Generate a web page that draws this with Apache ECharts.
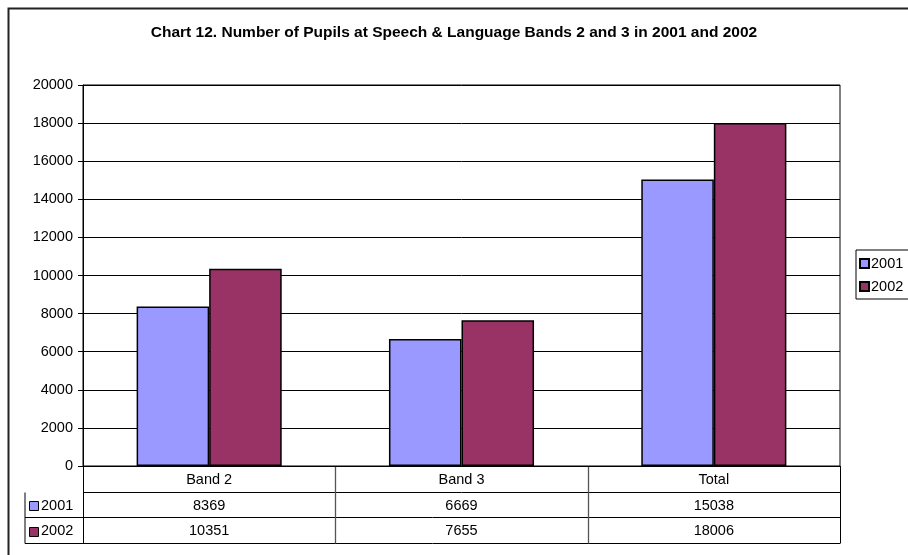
<!DOCTYPE html>
<html>
<head>
<meta charset="utf-8">
<script src="https://cdn.jsdelivr.net/npm/echarts@6/dist/echarts.min.js"></script>
<style>
  html, body { margin: 0; padding: 0; background: #fff; }
  #chart { width: 908px; height: 555px; }
</style>
</head>
<body>
<div id="chart"></div>
<script>
// Pupils at Speech & Language bands, by year
const categories = ['Band 2', 'Band 3', 'Total'];
const years = ['2001', '2002'];
const values2001 = [8369, 6669, 15038];
const values2002 = [10351, 7655, 18006];
const yTicks = { min: 0, max: 20000, interval: 2000 };

const colors = ['#9999FF', '#993366'];
const FONT = 'Liberation Sans, Arial, sans-serif';
const FS = 14.5;

const gridBox = { left: 83, right: 68, top: 85, bottom: 89 };
const tableRowH = 25.7;
const tableKeyLeft = 25;

const chart = echarts.init(document.getElementById('chart'), null, { renderer: 'canvas' });

const seriesValues = [values2001, values2002];

const option = {
  animation: false,
  backgroundColor: '#ffffff',
  title: {
    text: 'Chart 12. Number of Pupils at Speech & Language Bands 2 and 3 in 2001 and 2002',
    left: 'center',
    top: 20,
    textStyle: { fontFamily: FONT, fontSize: 15.5, fontWeight: 'bold', color: '#000' }
  },
  legend: {
    orient: 'vertical',
    left: 856,
    top: 250,
    padding: [6, 40, 5, 3],
    itemGap: 8,
    itemWidth: 9,
    itemHeight: 9,
    icon: 'rect',
    borderColor: '#000',
    borderWidth: 1,
    backgroundColor: '#fff',
    textStyle: { fontFamily: FONT, fontSize: FS, color: '#000', padding: [0, 0, 0, -3] },
    data: years
  },
  grid: Object.assign({ show: true, borderColor: '#000', borderWidth: 1, backgroundColor: '#fff' }, gridBox),
  xAxis: {
    type: 'category',
    data: categories,
    axisLine: { lineStyle: { color: '#000', width: 1 } },
    axisTick: { show: false },
    axisLabel: { show: false },
    splitLine: { show: false }
  },
  yAxis: {
    type: 'value',
    min: yTicks.min,
    max: yTicks.max,
    interval: yTicks.interval,
    axisLine: { show: true, lineStyle: { color: '#000', width: 1 } },
    axisTick: { show: true, length: 5, lineStyle: { color: '#000' } },
    axisLabel: { fontFamily: FONT, fontSize: FS, color: '#000', margin: 10, formatter: v => String(v) },
    splitLine: { lineStyle: { color: '#000', width: 1 } }
  },
  series: years.map((y, i) => ({
    name: y,
    type: 'bar',
    data: seriesValues[i],
    barGap: '0%',
    barCategoryGap: '42.5%',
    itemStyle: { color: colors[i], borderColor: '#000', borderWidth: 1.5 }
  }))
};

chart.setOption(option);

// Data table beneath the plot, placed using the axis scale
function buildTable() {
  const zeroY = chart.convertToPixel({ yAxisIndex: 0 }, 0);
  const plotLeft = gridBox.left;
  const plotRight = 908 - gridBox.right;
  const colW = (plotRight - plotLeft) / categories.length;
  const rows = 3;
  const tableBottom = zeroY + rows * tableRowH;
  const els = [];
  const line = (x1, y1, x2, y2, w, c) => ({
    type: 'line', silent: true,
    shape: { x1, y1, x2, y2 },
    style: { stroke: c || '#000', lineWidth: w || 1 }
  });

  // outer chart frame
  els.push({ type: 'rect', silent: true, z: -10,
    shape: { x: 8.5, y: 8.5, width: 1000, height: 700 },
    style: { fill: 'none', stroke: '#222', lineWidth: 2 } });

  // horizontal rules
  for (let r = 1; r <= rows; r++) {
    const y = Math.round(zeroY + r * tableRowH) + 0.5;
    const x1 = r === 1 ? plotLeft : tableKeyLeft;
    els.push(line(x1, y, plotRight, y));
  }
  // key column left edge
  els.push(line(tableKeyLeft, Math.round(zeroY + tableRowH) + 0.5, tableKeyLeft, Math.round(tableBottom) + 0.5));
  // vertical rules
  for (let c = 0; c <= categories.length; c++) {
    const x = Math.round(plotLeft + c * colW) + 0.5;
    const edge = c === 0 || c === categories.length;
    els.push(line(x, zeroY, x, Math.round(tableBottom) + 0.5, edge ? 1 : 1.3, edge ? '#000' : '#555'));
  }
  // category headers and values
  categories.forEach((cat, c) => {
    const cx = chart.convertToPixel({ xAxisIndex: 0 }, cat);
    els.push({ type: 'text', silent: true,
      style: { text: cat, x: cx, y: zeroY + tableRowH / 2 + 1, align: 'center', verticalAlign: 'middle',
        font: FS + 'px ' + FONT, fill: '#000' } });
    seriesValues.forEach((vals, s) => {
      els.push({ type: 'text', silent: true,
        style: { text: String(vals[c]), x: cx, y: zeroY + tableRowH * (s + 1.5) + 1, align: 'center', verticalAlign: 'middle',
          font: FS + 'px ' + FONT, fill: '#000' } });
    });
  });
  // legend keys in the table
  years.forEach((y, s) => {
    const cy = zeroY + tableRowH * (s + 1.5) + 1;
    els.push({ type: 'rect', silent: true,
      shape: { x: 29.5, y: Math.round(cy - 4.5) + 0.5, width: 9, height: 9 },
      style: { fill: colors[s], stroke: '#000', lineWidth: 1 } });
    els.push({ type: 'text', silent: true,
      style: { text: y, x: 41, y: cy, align: 'left', verticalAlign: 'middle',
        font: FS + 'px ' + FONT, fill: '#000' } });
  });
  chart.setOption({ graphic: { elements: els } });
}
buildTable();
</script>
</body>
</html>
